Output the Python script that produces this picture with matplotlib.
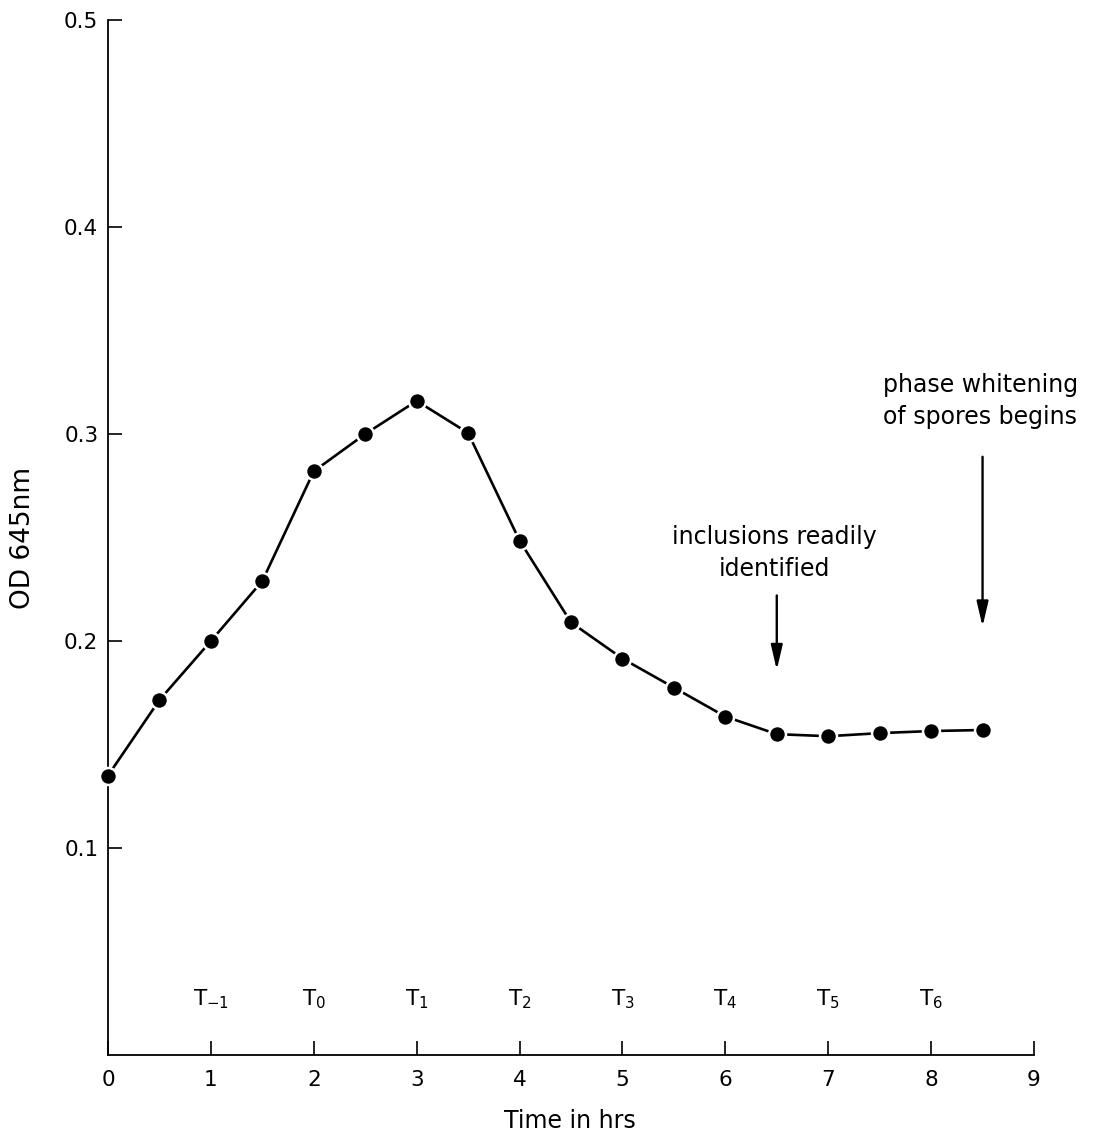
import matplotlib
matplotlib.use("Agg")
import matplotlib.pyplot as plt

plt.rcParams['font.family'] = ['DejaVu Sans']
plt.rcParams['mathtext.fontset'] = 'dejavusans'

# Data
time_hrs = [0, 0.5, 1, 1.5, 2, 2.5, 3, 3.5, 4, 4.5, 5, 5.5, 6, 6.5, 7, 7.5, 8, 8.5]
od_645 = [0.135, 0.1715, 0.200, 0.229, 0.282, 0.300, 0.316, 0.3005, 0.2485,
          0.209, 0.1915, 0.1775, 0.1635, 0.155, 0.154, 0.1555, 0.1565, 0.157]

x_ticks = [0, 1, 2, 3, 4, 5, 6, 7, 8, 9]
y_ticks = [0.1, 0.2, 0.3, 0.4, 0.5]
y_tick_labels = ["0.1", "0.2", "0.3", "0.4", "0.5"]

t_positions = [1, 2, 3, 4, 5, 6, 7, 8]
t_labels = ["T$_{-1}$", "T$_0$", "T$_1$", "T$_2$", "T$_3$", "T$_4$", "T$_5$", "T$_6$"]
t_label_y = 0.027

annotations = [
    ("inclusions readily\nidentified", 6.5, 0.222, 0.186, 0.2425),
    ("phase whitening\nof spores begins", 8.5, 0.289, 0.207, 0.316),
]

fig = plt.figure(figsize=(10.97, 11.43), dpi=100)
ax = fig.add_axes([108/1097, 1 - 1055/1143, (1034-108)/1097, (1055-20)/1143])

ax.plot(time_hrs, od_645, color='black', lw=1.9, zorder=2)
ax.plot(time_hrs, od_645, linestyle='none', marker='o', markersize=12.2,
        markerfacecolor='black', markeredgecolor='white', markeredgewidth=1.8,
        zorder=3, clip_on=False)

ax.set_xlim(0, 9)
ax.set_ylim(0, 0.5)
ax.set_xticks(x_ticks)
ax.set_xticklabels([str(v) for v in x_ticks])
ax.set_yticks(y_ticks)
ax.set_yticklabels(y_tick_labels)

for s in ['top', 'right']:
    ax.spines[s].set_visible(False)
for s in ['left', 'bottom']:
    ax.spines[s].set_linewidth(1.3)
    ax.spines[s].set_color('black')

ax.tick_params(axis='both', direction='in', length=10, width=1.2,
               labelsize=15.5, colors='black')
ax.tick_params(axis='x', pad=11)
ax.tick_params(axis='y', pad=7)

for xp, lab in zip(t_positions, t_labels):
    ax.text(xp, t_label_y, lab, ha='center', va='center', fontsize=15.5)

for text, xa, y_start, y_end, y_text in annotations:
    ax.annotate('', xy=(xa, y_end), xytext=(xa, y_start),
                arrowprops=dict(arrowstyle='-|>,head_length=1.5,head_width=0.35',
                                color='black', lw=1.7, shrinkA=0, shrinkB=0))
    ax.text(xa - 0.02, y_text, text, ha='center', va='center', fontsize=17,
            linespacing=1.45)

fig.text(23/1097, 1 - 538/1143, "OD 645nm", rotation=90, ha='center', va='center',
         fontsize=19)
fig.text(570/1097, 1 - 1121/1143, "Time in hrs", ha='center', va='center',
         fontsize=17)

fig.savefig("out.png", dpi=100, facecolor='white')
